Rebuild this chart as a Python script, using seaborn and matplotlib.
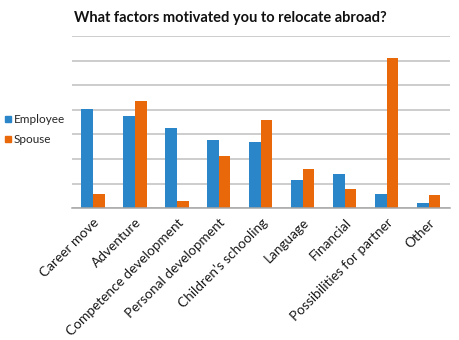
import matplotlib
matplotlib.use("Agg")
import matplotlib.pyplot as plt
from matplotlib.lines import Line2D
from matplotlib.ticker import MultipleLocator, FixedLocator
import seaborn as sns
import pandas as pd
import numpy as np

categories = ["Career move", "Adventure", "Competence development",
              "Personal development", "Children\u2019s schooling", "Language",
              "Financial", "Possibilities for partner", "Other"]
employee = [20.2, 18.8, 16.2, 13.9, 13.4, 5.8, 6.9, 2.9, 1.1]
spouse = [2.8, 21.7, 1.4, 10.6, 17.9, 8.0, 3.9, 30.6, 2.7]
series = ["Employee", "Spouse"]
colors = ["#2A86C8", "#E8680A"]

df = pd.DataFrame({
    "category": categories * 2,
    "value": employee + spouse,
    "series": [series[0]] * len(categories) + [series[1]] * len(categories),
})

sns.set_style("white")
plt.rcParams["font.family"] = ["Lato", "DejaVu Sans"]

fig = plt.figure(figsize=(4.6, 3.4), dpi=100)
ax = fig.add_axes([0.1565, 0.388, 0.8215, 0.506])

sns.barplot(data=df, x="category", y="value", hue="series",
            palette=colors, width=0.55, gap=0, ax=ax, legend=False,
            saturation=1, edgecolor="none")

ax.set_ylim(0, 35)
ax.set_xlim(-0.5, len(categories) - 0.5)
ax.yaxis.set_major_locator(MultipleLocator(5))
ax.set_yticklabels([])
ax.tick_params(axis="y", length=0)
ax.grid(axis="y", color="#C0C0C0", linewidth=1.1)
ax.set_axisbelow(True)
for side in ["top", "right", "left"]:
    ax.spines[side].set_visible(False)
ax.spines["bottom"].set_color("#A6A6A6")
ax.spines["bottom"].set_linewidth(1.1)

ax.set_xticks(range(len(categories)))
ax.set_xticklabels(categories, rotation=45, ha="right",
                   rotation_mode="anchor", fontsize=9.8, color="#1a1a1a")
ax.tick_params(axis="x", which="major", length=0, pad=6)
ax.xaxis.set_minor_locator(FixedLocator(np.arange(-0.5, len(categories), 1)))
ax.tick_params(axis="x", which="minor", length=4, color="#A6A6A6", width=1.1)
ax.set_xlabel("")
ax.set_ylabel("")

fig.text(0.5, 0.948, "What factors motivated you to relocate abroad?",
         ha="center", va="center", fontsize=10.5, fontweight="bold",
         color="#111111")

handles = [Line2D([0], [0], marker="s", linestyle="none", markersize=5,
                  markerfacecolor=c, markeredgecolor=c) for c in colors]
fig.legend(handles, series, loc="center left", bbox_to_anchor=(-0.008, 0.619),
           frameon=False, fontsize=8.5, handlelength=0.6, handletextpad=0.2,
           labelspacing=0.75, borderpad=0.2)

fig.savefig("out.png", dpi=100, facecolor="white")
